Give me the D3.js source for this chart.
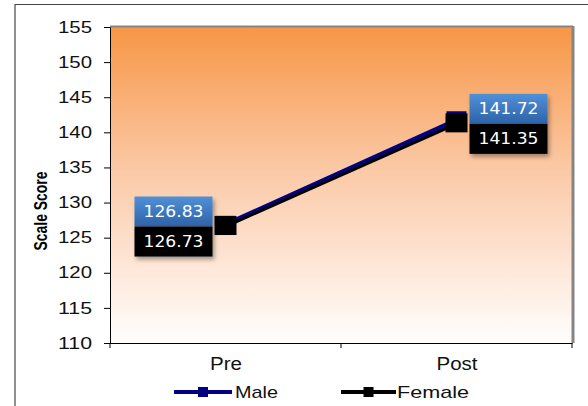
<!DOCTYPE html>
<html><head><meta charset="utf-8">
<script src="https://cdn.jsdelivr.net/npm/d3@7"></script>
<style>body{margin:0;background:#fff}svg{display:block}</style>
</head><body>
<script>
const categories = ["Pre", "Post"];
const maleValues = [126.83, 141.72];
const femaleValues = [126.73, 141.35];
const seriesNames = ["Male", "Female"];
const yTicks = [110, 115, 120, 125, 130, 135, 140, 145, 150, 155];

const W = 588, H = 406;
const m = {left: 110, top: 27, right: 572, bottom: 343};
const FONT = "Liberation Sans, Arial, sans-serif";
const svg = d3.select("body").append("svg").attr("width", W).attr("height", H);
const defs = svg.append("defs");
const bg = defs.append("linearGradient").attr("id", "bg").attr("x1", 0).attr("y1", 0).attr("x2", 0).attr("y2", 1);
bg.append("stop").attr("offset", "0").attr("stop-color", "#f79646");
bg.append("stop").attr("offset", "0.45").attr("stop-color", "#fbc9a6");
bg.append("stop").attr("offset", "1").attr("stop-color", "#fffefe");
const bl = defs.append("linearGradient").attr("id", "blue").attr("x1", 0).attr("y1", 0).attr("x2", 0).attr("y2", 1);
bl.append("stop").attr("offset", "0").attr("stop-color", "#5190d8");
bl.append("stop").attr("offset", "1").attr("stop-color", "#2d62a8");
const sh = defs.append("filter").attr("id", "sh").attr("x", "-20%").attr("y", "-20%").attr("width", "150%").attr("height", "150%");
sh.append("feDropShadow").attr("dx", 2).attr("dy", 3).attr("stdDeviation", 2).attr("flood-color", "#000").attr("flood-opacity", 0.35);

// outer frame
svg.append("line").attr("x1", 15).attr("x2", 15).attr("y1", 4).attr("y2", H).attr("stroke", "#222").attr("stroke-width", 1);
svg.append("line").attr("x1", 15).attr("x2", W).attr("y1", 4.5).attr("y2", 4.5).attr("stroke", "#444").attr("stroke-width", 1);

const x = d3.scalePoint().domain(categories).range([m.left, m.right]).padding(0.5);
const y = d3.scaleLinear().domain([110, 155]).range([m.bottom, m.top]);

// plot area
svg.append("rect").attr("x", m.left).attr("y", m.top).attr("width", m.right - m.left).attr("height", m.bottom - m.top).attr("fill", "url(#bg)");
svg.append("line").attr("x1", m.left).attr("x2", m.right + 1).attr("y1", m.top - 0.5).attr("y2", m.top - 0.5).attr("stroke", "#858585").attr("stroke-width", 2);
svg.append("line").attr("x1", m.right + 1).attr("x2", m.right + 1).attr("y1", m.top - 1).attr("y2", m.bottom).attr("stroke", "#858585").attr("stroke-width", 3);

// y axis
const ya = svg.append("g").attr("transform", `translate(${m.left},0)`)
  .call(d3.axisLeft(y).tickValues(yTicks).tickSize(6).tickPadding(12));
ya.selectAll("text").attr("font-family", FONT).attr("font-size", 16).attr("fill", "#111")
  .attr("textLength", 34).attr("lengthAdjust", "spacingAndGlyphs");
ya.selectAll("line,path").attr("stroke", "#000");

// x axis
const xa = svg.append("g").attr("transform", `translate(0,${m.bottom})`)
  .call(d3.axisBottom(x).tickSize(0).tickPadding(14));
xa.select("path").attr("stroke", "#000");
xa.selectAll("text").attr("font-family", FONT).attr("font-size", 18).attr("fill", "#111")
  .attr("textLength", d => d === "Pre" ? 32 : 41).attr("lengthAdjust", "spacingAndGlyphs");
const step = x.step();
xa.selectAll(".bt").data([0, 1, 2]).enter().append("line").attr("class", "bt")
  .attr("x1", i => m.left + i * step).attr("x2", i => m.left + i * step).attr("y1", 0).attr("y2", 5).attr("stroke", "#000");

// y title
svg.append("text").attr("transform", "translate(47,211) rotate(-90)").attr("text-anchor", "middle")
  .attr("font-family", FONT).attr("font-weight", "bold").attr("font-size", 19)
  .attr("textLength", 79).attr("lengthAdjust", "spacingAndGlyphs").text("Scale Score");

// lines
const line = vals => d3.line().x((d, i) => x(categories[i])).y(d => y(d))(vals);
svg.append("path").attr("d", line(maleValues)).attr("fill", "none").attr("stroke", "#000080").attr("stroke-width", 5);
svg.append("path").attr("d", line(femaleValues)).attr("fill", "none").attr("stroke", "#000").attr("stroke-width", 3).attr("transform", "translate(0,1)");

// markers
svg.selectAll(".mm").data(maleValues).enter().append("rect")
  .attr("x", (d, i) => x(categories[i]) - 10).attr("y", d => y(d) - 9).attr("width", 20).attr("height", 18).attr("fill", "#000080");
svg.selectAll(".fm").data(femaleValues).enter().append("rect")
  .attr("x", (d, i) => x(categories[i]) - 11).attr("y", d => y(d) - 9.5).attr("width", 22).attr("height", 19).attr("fill", "#000");

// data labels
const bw = 78, bh = 30;
function label(vals, fill, offY) {
  const g = svg.append("g");
  vals.forEach((v, i) => {
    const cx = x(categories[i]) + (i === 0 ? -52 : 52);
    const cy = y(femaleValues[i]) + offY;
    g.append("rect").attr("x", cx - bw / 2).attr("y", cy - bh / 2).attr("width", bw).attr("height", bh)
      .attr("fill", fill).attr("filter", "url(#sh)");
    g.append("text").attr("x", cx).attr("y", cy + 5.5).attr("text-anchor", "middle")
      .attr("font-family", "DejaVu Sans, sans-serif").attr("font-size", 15).attr("fill", "#fff")
      .attr("textLength", 60).attr("lengthAdjust", "spacingAndGlyphs").text(v.toFixed(2));
  });
}
label(maleValues, "url(#blue)", -14);
label(femaleValues, "#000", 16);

// legend
const lg = [{n: seriesNames[0], c: "#000080", x1: 174, x2: 232, tx: 235, tl: 43}, {n: seriesNames[1], c: "#000", x1: 341, x2: 396, tx: 397, tl: 72}];
const ly = 392;
lg.forEach(d => {
  svg.append("line").attr("x1", d.x1).attr("x2", d.x2).attr("y1", ly).attr("y2", ly).attr("stroke", d.c).attr("stroke-width", 4);
  const mx = (d.x1 + d.x2) / 2;
  svg.append("rect").attr("x", mx - 5).attr("y", ly - 5).attr("width", 10).attr("height", 10).attr("fill", d.c);
  svg.append("text").attr("x", d.tx).attr("y", ly + 6).attr("font-family", FONT)
    .attr("font-size", 17).attr("fill", "#111").attr("textLength", d.tl).attr("lengthAdjust", "spacingAndGlyphs").text(d.n);
});
</script>
</body></html>
